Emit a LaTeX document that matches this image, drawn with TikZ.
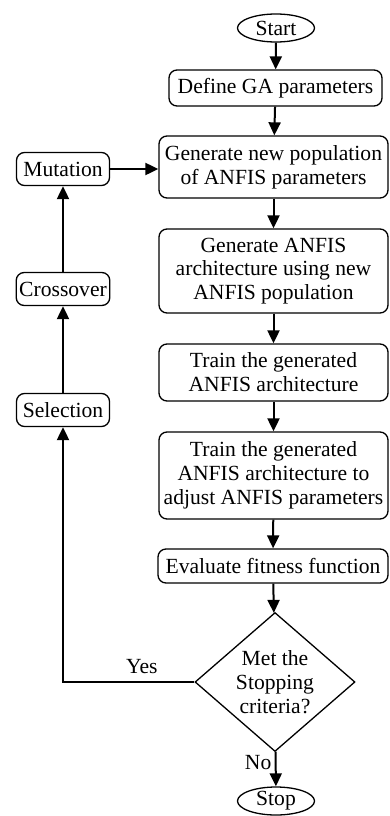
\documentclass[tikz,border=0pt]{standalone}
\usepackage{fontspec}
\setmainfont{Liberation Serif}
\usetikzlibrary{arrows.meta,shapes.geometric}

\begin{document}
\begin{tikzpicture}[x=1pt, y=-1pt, font=\fontsize{21.6}{23.8}\selectfont]

\tikzstyle{box}=[rectangle, draw, rounded corners=8pt, line width=1.3pt, align=center, inner xsep=3pt, inner ysep=6pt, minimum width=229pt]
\tikzstyle{sidebox}=[box, minimum width=93pt, minimum height=33pt, inner ysep=3pt]
\tikzstyle{term}=[ellipse, draw, line width=1.3pt, minimum width=77pt, minimum height=28pt, inner sep=0pt]
\tikzstyle{decision}=[diamond, draw, line width=1.3pt, align=center, aspect=1.15, minimum width=160pt, minimum height=139pt, inner sep=0pt]
\tikzstyle{arrow}=[-{Triangle[length=13pt,width=12pt]}, line width=2pt]

\useasboundingbox (0,0) rectangle (389,816);

\node (start) [term] at (276,28) {Start};
\node (define) [box, minimum width=213pt, minimum height=36pt] at (275.5,88) {Define GA parameters};
\node (genpop) [box, minimum height=62pt] at (273.5,167) {Generate new population\\of ANFIS parameters};
\node (arch) [box, minimum height=84pt] at (273.5,271) {Generate ANFIS\\architecture using new\\ANFIS population};
\node (train) [box, minimum height=57pt] at (273.5,372.5) {Train the generated\\ANFIS architecture};
\node (adjust) [box, minimum height=87pt] at (273.5,475.5) {Train the generated\\ANFIS architecture to\\adjust ANFIS parameters};
\node (eval) [box, minimum width=230pt, minimum height=34pt, inner ysep=3pt] at (273,566) {Evaluate fitness function};
\node (met) [decision] at (275,682) {Met the\\Stopping\\criteria?};
\node (stop) [term] at (276,801) {Stop};

\node (mut) [sidebox] at (63,169) {Mutation};
\node (cross) [sidebox] at (63,289) {Crossover};
\node (sel) [sidebox] at (63,410) {Selection};

\draw [arrow] (start) -- (define);
\draw [arrow] (define) -- (genpop);
\draw [arrow] (genpop) -- (arch);
\draw [arrow] (arch) -- (train);
\draw [arrow] (train) -- (adjust);
\draw [arrow] (adjust) -- (eval);
\draw [arrow] (eval) -- (met);
\draw [arrow] (met) -- node [left, pos=0.3] {No} (stop);

\draw [arrow] (met.west) -| node [above=4pt, pos=0.2] {Yes} (sel.south);
\draw [arrow] (sel) -- (cross);
\draw [arrow] (cross) -- (mut);
\draw [arrow] (mut) -- (mut -| genpop.west);

\end{tikzpicture}
\end{document}
